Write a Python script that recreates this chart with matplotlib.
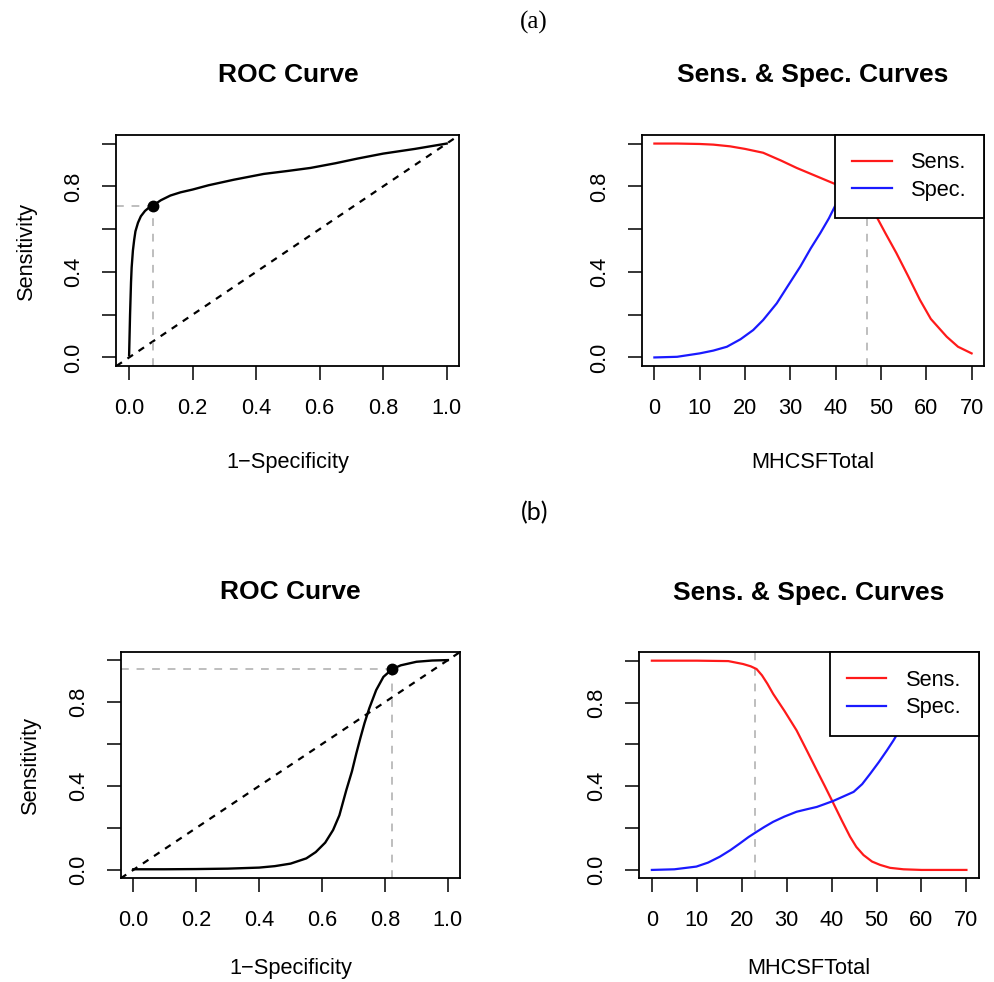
import matplotlib
matplotlib.use("Agg")
import matplotlib.pyplot as plt
import numpy as np

plt.rcParams['font.family'] = ['Liberation Sans', 'DejaVu Sans']

# ---------------- data ----------------
# (a) ROC curve
roc_a_fpr = [0.000, 0.003, 0.006, 0.008, 0.012, 0.016, 0.020, 0.028, 0.037, 0.050,
             0.062, 0.075, 0.100, 0.130, 0.162, 0.200, 0.250, 0.330, 0.424, 0.500,
             0.571, 0.650, 0.720, 0.800, 0.900, 1.000]
roc_a_tpr = [0.010, 0.200, 0.350, 0.420, 0.500, 0.550, 0.590, 0.630, 0.660, 0.685,
             0.700, 0.710, 0.735, 0.757, 0.772, 0.785, 0.805, 0.831, 0.858, 0.872,
             0.886, 0.908, 0.930, 0.953, 0.975, 1.000]
best_a = (0.075, 0.71)

# (a) Sens / Spec vs MHCSFTotal
ss_a_sens_x = [0, 5, 10, 13, 16.7, 20, 24, 28, 31.4, 35.8, 40.2, 43, 45, 47, 49, 51,
               53.4, 56, 58.6, 61, 64.5, 67, 70]
ss_a_sens_y = [1.0, 1.0, 0.998, 0.995, 0.987, 0.975, 0.957, 0.920, 0.886, 0.847, 0.808,
               0.780, 0.750, 0.710, 0.659, 0.580, 0.488, 0.380, 0.269, 0.180, 0.097,
               0.050, 0.019]
ss_a_spec_x = [0, 5, 10, 13, 16, 19, 21.8, 24, 27, 29.5, 32.2, 34.5, 36.6, 38.5, 40.2,
               42, 44, 47, 50, 55, 60, 70]
ss_a_spec_y = [0.0, 0.003, 0.019, 0.032, 0.050, 0.085, 0.128, 0.175, 0.253, 0.336, 0.425,
               0.510, 0.581, 0.650, 0.722, 0.800, 0.860, 0.925, 0.960, 0.985, 0.995, 1.0]
cut_a = 47

# (b) ROC curve
roc_b_fpr = [0.0, 0.1, 0.2, 0.3, 0.4, 0.45, 0.5, 0.55, 0.58, 0.61, 0.635, 0.655, 0.677,
             0.695, 0.709, 0.722, 0.735, 0.75, 0.772, 0.795, 0.822, 0.85, 0.9, 0.95, 1.0]
roc_b_tpr = [0.003, 0.003, 0.004, 0.006, 0.011, 0.018, 0.030, 0.055, 0.085, 0.130, 0.190,
             0.260, 0.380, 0.470, 0.556, 0.630, 0.700, 0.770, 0.857, 0.920, 0.956, 0.975,
             0.992, 0.998, 1.0]
best_b = (0.822, 0.956)

# (b) Sens / Spec vs MHCSFTotal
ss_b_sens_x = [0, 10, 17, 20.3, 22, 23.3, 24.5, 25.7, 27, 29.5, 32.2, 34.5, 36.7, 38.5,
               40.4, 42.3, 44.1, 45.5, 47.1, 49, 50.8, 53, 56, 60, 70]
ss_b_sens_y = [1.0, 1.0, 0.998, 0.984, 0.973, 0.960, 0.930, 0.890, 0.841, 0.760, 0.667,
               0.570, 0.476, 0.400, 0.318, 0.235, 0.159, 0.110, 0.071, 0.040, 0.024,
               0.010, 0.003, 0.0, 0.0]
ss_b_spec_x = [0, 5, 9.9, 12.5, 15.1, 17.5, 19.6, 21.5, 23.3, 25, 27, 29.5, 32.2, 34.5,
               36.7, 38.5, 40.4, 42.5, 44.9, 46.8, 48.6, 50.5, 52.3, 53.8, 55.3, 57, 60,
               63, 66, 70]
ss_b_spec_y = [0.0, 0.003, 0.016, 0.035, 0.063, 0.095, 0.127, 0.157, 0.182, 0.205, 0.230,
               0.255, 0.278, 0.290, 0.301, 0.315, 0.330, 0.350, 0.373, 0.410, 0.460, 0.515,
               0.571, 0.620, 0.675, 0.730, 0.820, 0.900, 0.960, 1.0]
cut_b = 23

roc_xticks = [0.0, 0.2, 0.4, 0.6, 0.8, 1.0]
ss_xticks = [0, 10, 20, 30, 40, 50, 60, 70]
yticks = [0.0, 0.2, 0.4, 0.6, 0.8, 1.0]
ytick_labels = ['0.0', '', '0.4', '', '0.8', '']

# ---------------- figure ----------------
W, H = 995, 982
fig = plt.figure(figsize=(W / 100, H / 100), dpi=100)


def rect(L, R, T, B):
    return [L / W, 1 - B / H, (R - L) / W, (B - T) / H]


FS = 15.7
GRAY = '#BEBEBE'


def style(ax, xticks, xlim, ylabel=None):
    ax.set_xlim(*xlim)
    ax.set_ylim(-0.04, 1.04)
    ax.set_xticks(xticks)
    ax.set_xticklabels([('%g' % t) if isinstance(t, int) else ('%.1f' % t) for t in xticks])
    ax.set_yticks(yticks)
    ax.set_yticklabels(ytick_labels, rotation=90, va='center')
    ax.tick_params(axis='both', direction='out', length=10, width=1.1, labelsize=FS, pad=13,
                   colors='black')
    for s in ax.spines.values():
        s.set_linewidth(1.3)
        s.set_color('black')
    if ylabel:
        ax.set_ylabel(ylabel, fontsize=FS, labelpad=19)


def roc_panel(rect_, fpr, tpr, best, xlpad):
    ax = fig.add_axes(rect_)
    ax.axline((0, 0), (1, 1), color='black', lw=1.6, ls=(0, (3, 3)))
    ax.plot([-0.04, best[0]], [best[1], best[1]], color=GRAY, lw=1.4, ls=(0, (4, 4)))
    ax.plot([best[0], best[0]], [-0.04, best[1]], color=GRAY, lw=1.4, ls=(0, (4, 4)))
    ax.plot(fpr, tpr, color='black', lw=1.7)
    ax.plot([best[0]], [best[1]], 'o', color='black', ms=7.5)
    style(ax, roc_xticks, (-0.04, 1.04), 'Sensitivity')
    ax.set_title('ROC Curve', fontsize=19, fontweight='bold', pad=38)
    ax.set_xlabel('1\u2212Specificity', fontsize=FS, labelpad=xlpad)
    return ax


def ss_panel(rect_, sx, sy, px, py, cut, xlpad):
    ax = fig.add_axes(rect_)
    ax.axvline(cut, color=GRAY, lw=1.4, ls=(0, (4, 4)))
    ax.plot(sx, sy, color='#FF1A1A', lw=1.6, label='Sens.')
    ax.plot(px, py, color='#1A1AFF', lw=1.6, label='Spec.')
    style(ax, ss_xticks, (-2.8, 72.8))
    ax.set_title('Sens. & Spec. Curves', fontsize=19, fontweight='bold', pad=38)
    ax.set_xlabel('MHCSFTotal', fontsize=FS, labelpad=xlpad)
    leg = ax.legend(loc='upper right', borderaxespad=0, fontsize=FS, fancybox=False,
                    framealpha=1, edgecolor='black', handlelength=1.8,
                    handletextpad=0.9, labelspacing=0.3, borderpad=0.8)
    leg.get_frame().set_linewidth(1.3)
    return ax


roc_panel(rect(116.4, 459.4, 135, 366), roc_a_fpr, roc_a_tpr, best_a, 24)
ss_panel(rect(641.7, 984.3, 135, 366), ss_a_sens_x, ss_a_sens_y, ss_a_spec_x, ss_a_spec_y,
         cut_a, 24)
roc_panel(rect(120.7, 460.5, 651.7, 878.3), roc_b_fpr, roc_b_tpr, best_b, 19)
ss_panel(rect(639.3, 979.0, 652.3, 878.3), ss_b_sens_x, ss_b_sens_y, ss_b_spec_x, ss_b_spec_y,
         cut_b, 19)

fig.text(534 / W, 1 - 22 / H, '(a)', ha='center', va='center', fontsize=18,
         family=['Liberation Serif', 'DejaVu Serif'])
fig.text(535 / W, 1 - 513 / H, '(b)', ha='center', va='center', fontsize=18,
         family=['Lato', 'DejaVu Sans'])

fig.savefig('out.png', dpi=100)
